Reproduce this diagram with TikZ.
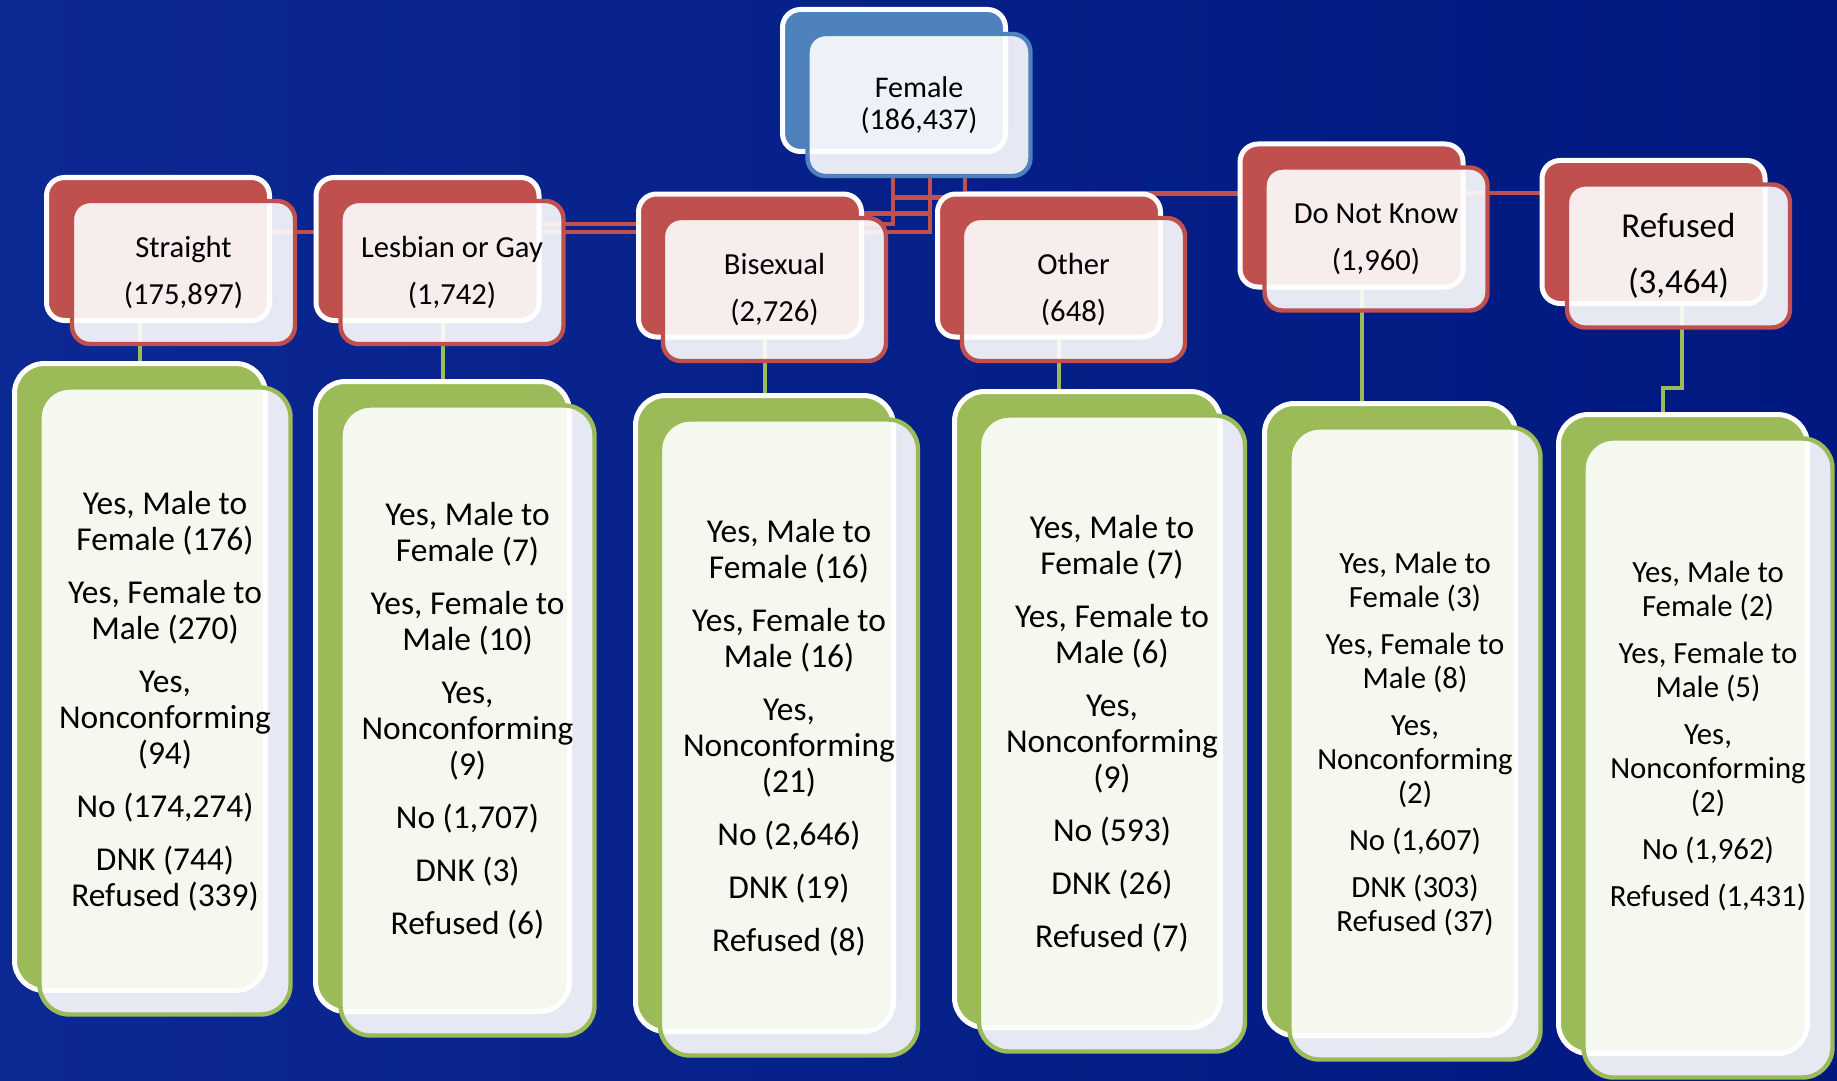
\documentclass[tikz,border=0pt]{standalone}
\usepackage{fontspec}
\setmainfont{Carlito}
\definecolor{slideblue}{RGB}{0,24,128}
\definecolor{slidebluelight}{RGB}{12,40,146}
\definecolor{topblue}{RGB}{79,129,189}
\definecolor{catred}{RGB}{192,80,77}
\definecolor{ansgreen}{RGB}{155,187,89}
\pgfdeclarelayer{backdrop}
\pgfdeclarelayer{lines}
\pgfsetlayers{backdrop,lines,main}
\tikzstyle{backbox} = [rectangle, draw=white, line width=2.5pt, inner sep=0pt]
\tikzstyle{frontbox} = [rectangle, line width=2.2pt, fill=white, fill opacity=0.9,
    text opacity=1, text centered, align=center, inner sep=0pt]
\tikzstyle{topback} = [backbox, fill=topblue, rounded corners=9pt,
    minimum width=111.5pt, minimum height=71pt]
\tikzstyle{topfront} = [frontbox, draw=topblue, rounded corners=9pt,
    minimum width=111.5pt, minimum height=71pt, font=\fontsize{15}{16}\selectfont]
\tikzstyle{catback} = [backbox, fill=catred, rounded corners=9pt,
    minimum width=111.5pt, minimum height=71.5pt]
\tikzstyle{catfront} = [frontbox, draw=catred, rounded corners=9pt,
    minimum width=111.5pt, minimum height=71.5pt, font=\fontsize{15.3}{23.5}\selectfont]
\tikzstyle{ansback} = [backbox, fill=ansgreen, rounded corners=15pt]
\tikzstyle{ansfront} = [frontbox, draw=ansgreen, rounded corners=15pt,
    font=\fontsize{16.7}{18}\selectfont]
\tikzstyle{ansfrontsmall} = [ansfront, font=\fontsize{15.4}{17}\selectfont]
\tikzset{
  redline/.style ={draw=catred, line width=2.2pt},
  greenline/.style ={draw=ansgreen, line width=2pt}
}
\begin{document}
\begin{tikzpicture}[x=0.5pt, y=-0.5pt]
   \useasboundingbox (0,0) rectangle (1837,1081);
   \begin{pgfonlayer}{backdrop}
   \fill[left color=slidebluelight, right color=slideblue] (0,0) rectangle (1837,1081);
   \end{pgfonlayer}
   % top
   \node [topback] (femback) at (894,80.5) {};
   \node [topfront] (femfront) at (919,105) {Female\\(186,437)};
   % orientation
   \node [catback] (strback) at (158,249) {};
   \node [catfront] (strfront) at (183.5,272.5) {Straight\\(175,897)};
   \node [catback] (lesback) at (427.5,249) {};
   \node [catfront] (lesfront) at (452,272.5) {Lesbian or Gay\\(1,742)};
   \node [catback] (bisback) at (750,265.5) {};
   \node [catfront] (bisfront) at (774.5,289.5) {Bisexual\\(2,726)};
   \node [catback] (othback) at (1049,265.5) {};
   \node [catfront] (othfront) at (1073.5,289.5) {Other\\(648)};
   \node [catback] (dnkback) at (1351.5,215.5) {};
   \node [catfront] (dnkfront) at (1376,239) {Do Not Know\\(1,960)};
   \node [catback] (refback) at (1653.5,232) {};
   \node [catfront,font=\fontsize{17.5}{28}\selectfont] (reffront) at (1678.5,256) {Refused\\(3,464)};
   % answers
   \node [ansback,minimum width=125.5pt,minimum height=313.5pt] (g1back) at (140,677) {};
   \node [ansfront,minimum width=125.5pt,minimum height=313.5pt] (g1front) at (165,701)
     {Yes, Male to\\Female (176)\\[8.5pt]Yes, Female to\\Male (270)\\[8.5pt]Yes,\\Nonconforming\\(94)\\[8.5pt]No (174,274)\\[8.5pt]DNK (744)\\Refused (339)};
   \node [ansback,minimum width=127pt,minimum height=315pt] (g2back) at (442.5,696.5) {};
   \node [ansfront,minimum width=127pt,minimum height=315pt] (g2front) at (467.5,720.5)
     {Yes, Male to\\Female (7)\\[8.5pt]Yes, Female to\\Male (10)\\[8.5pt]Yes,\\Nonconforming\\(9)\\[8.5pt]No (1,707)\\[8.5pt]DNK (3)\\[8.5pt]Refused (6)};
   \node [ansback,minimum width=129pt,minimum height=318pt] (g3back) at (764.5,713.5) {};
   \node [ansfront,minimum width=129pt,minimum height=318pt] (g3front) at (789,737.5)
     {Yes, Male to\\Female (16)\\[8.5pt]Yes, Female to\\Male (16)\\[8.5pt]Yes,\\Nonconforming\\(21)\\[8.5pt]No (2,646)\\[8.5pt]DNK (19)\\[8.5pt]Refused (8)};
   \node [ansback,minimum width=133pt,minimum height=318pt] (g4back) at (1087.5,709.5) {};
   \node [ansfront,minimum width=133pt,minimum height=318pt] (g4front) at (1112,733.5)
     {Yes, Male to\\Female (7)\\[8.5pt]Yes, Female to\\Male (6)\\[8.5pt]Yes,\\Nonconforming\\(9)\\[8.5pt]No (593)\\[8.5pt]DNK (26)\\[8.5pt]Refused (7)};
   \node [ansback,minimum width=125.5pt,minimum height=316pt] (g5back) at (1390,719.5) {};
   \node [ansfrontsmall,minimum width=125.5pt,minimum height=316pt] (g5front) at (1415,743.5)
     {Yes, Male to\\Female (3)\\[6.5pt]Yes, Female to\\Male (8)\\[6.5pt]Yes,\\Nonconforming\\(2)\\[6.5pt]No (1,607)\\[6.5pt]DNK (303)\\Refused (37)};
   \node [ansback,minimum width=124.5pt,minimum height=319.5pt] (g6back) at (1683,734) {};
   \node [ansfrontsmall,minimum width=124.5pt,minimum height=319.5pt,text depth=24pt] (g6front) at (1708,758)
     {Yes, Male to\\Female (2)\\[6.5pt]Yes, Female to\\Male (5)\\[6.5pt]Yes,\\Nonconforming\\(2)\\[6.5pt]No (1,962)\\[6.5pt]Refused (1,431)};
   \begin{pgfonlayer}{lines}
   \path [redline] ([xshift=5.5pt]femfront.south) |- ([yshift=8.5pt]strback.center);
   \path [redline] ([xshift=-13pt]femfront.south) |- ([yshift=12.5pt]lesback.center);
   \path [redline] ([xshift=5.5pt]femfront.south) |- ([yshift=26pt]bisback.center);
   \path [redline] ([xshift=-13pt]femfront.south) |- ([yshift=34pt]othback.center);
   \path [redline] ([xshift=23pt]femfront.south) |- ([yshift=11pt]dnkback.center);
   \path [redline] ([xshift=23pt]femfront.south) |- ([yshift=19.5pt]refback.center);
   \path [greenline] (strback.center -| g1back.north) -- (g1back.north);
   \path [greenline] (lesback.center -| g2back.north) -- (g2back.north);
   \path [greenline] (bisback.center -| g3back.north) -- (g3back.north);
   \path [greenline] ([xshift=5pt]othback.center) -- ([xshift=5pt]othback.center |- g4back.north);
   \path [greenline] ([xshift=5pt]dnkback.center) -- ([xshift=5pt]dnkback.center |- g5back.north);
   \path [greenline] ([xshift=14.25pt]refback.center) |- ([xshift=-10pt,yshift=12pt]g6back.north)
     -- ([xshift=-10pt]g6back.north);
   \end{pgfonlayer}
\end{tikzpicture}
\end{document}
